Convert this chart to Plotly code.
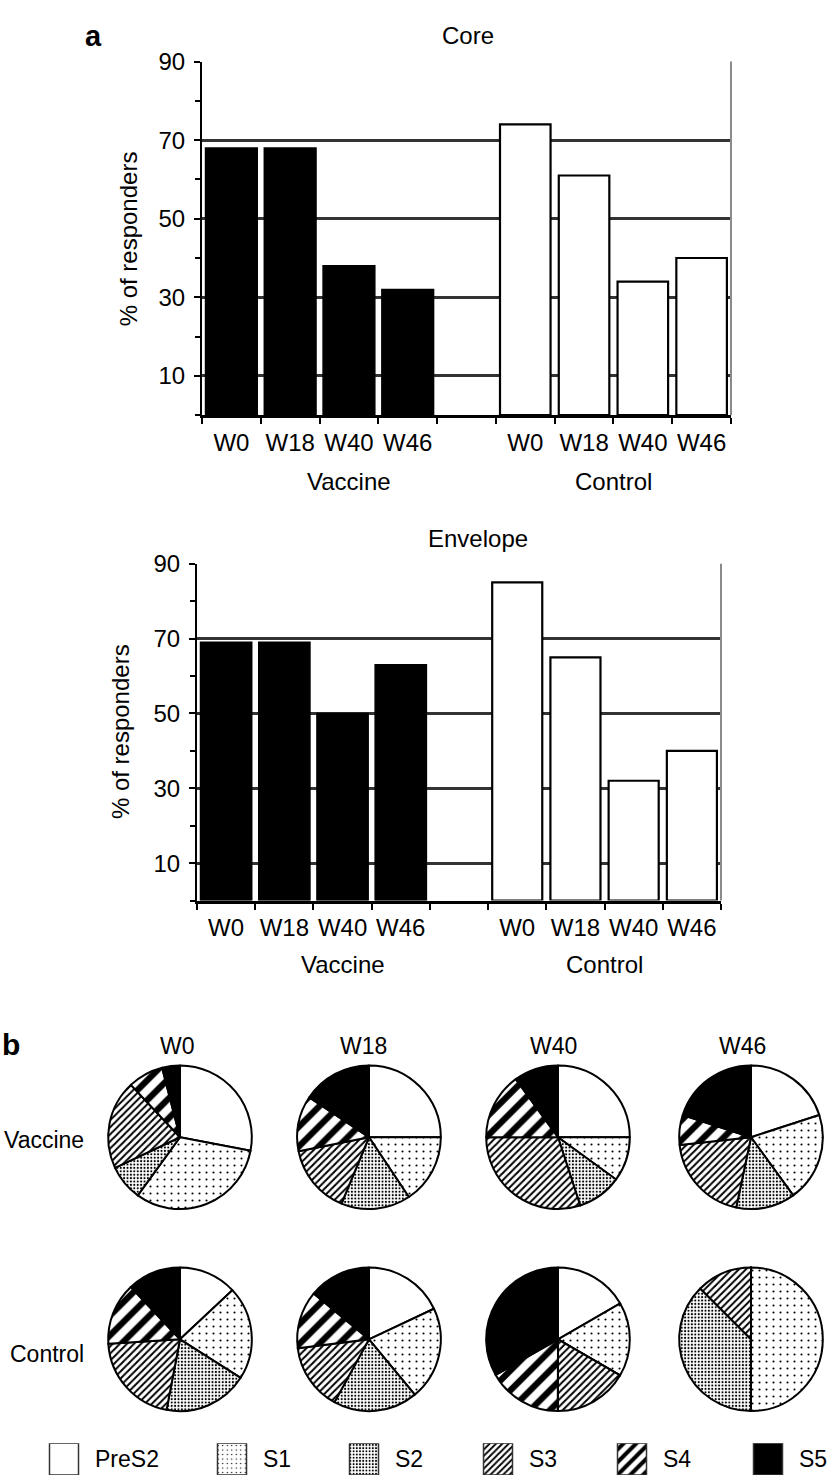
import plotly.graph_objects as go

# ---------------- data ----------------
timepoints = ["W0", "W18", "W40", "W46"]
groups = ["Vaccine", "Control"]

core_vaccine = [68, 68, 38, 32]
core_control = [74, 61, 34, 40]
env_vaccine = [69, 69, 50, 63]
env_control = [85, 65, 32, 40]

y_tick_values = [10, 30, 50, 70, 90]

fragments = ["PreS2", "S1", "S2", "S3", "S4", "S5"]
# % of responders per fragment (pie charts, clockwise from 12 o'clock)
pie_vaccine = [
    [28, 32, 8, 20, 8, 4],               # W0
    [25, 15.6, 15.6, 15.6, 12.5, 15.6],  # W18
    [25, 10, 10, 30, 15, 10],            # W40
    [20, 20, 13.3, 20, 6.7, 20],         # W46
]
pie_control = [
    [13, 21, 19, 21, 14, 12],            # W0
    [18, 21, 19, 15, 13, 14],            # W18
    [16.7, 16.7, 0, 16.7, 16.7, 33.3],   # W40
    [0, 50, 37.5, 12.5, 0, 0],           # W46
]

# ---------------- styling ----------------
W, H = 829, 1476
FONT = "Liberation Sans, Arial, Helvetica, sans-serif"
FS_BAR = 24
FS = 23

frag_color = ["white", "white", "white", "white", "white", "black"]
pat_shape = ["", ".", ".", "/", "/", ""]
pat_size = [8, 7, 3.4, 5.0, 14, 8]
pat_solid = [0.2, 0.07, 0.3, 0.4, 0.45, 0.2]
legend_pat_size = [8, 4.5, 3.2, 4.5, 9, 8]


def fx(p):
    return p / W


def fy(p):
    return 1 - p / H


def text(t, x, y, size=FS, xanchor="center", yanchor="middle", **kw):
    d = dict(text=t, x=x, y=y, xref=kw.pop("xref", "paper"),
             yref=kw.pop("yref", "paper"), showarrow=False,
             xanchor=xanchor, yanchor=yanchor,
             font=dict(family=FONT, size=size, color="black"))
    d.update(kw)
    return d


fig = go.Figure()

vac_pos = list(range(len(timepoints)))
ctl_pos = [len(timepoints) + 1 + i for i in range(len(timepoints))]
n_slots = len(timepoints) * 2 + 1

panels = [
    dict(title="Core", vac=core_vaccine, ctl=core_control,
         box=(202, 731, 48, 405), title_xy=(468, 22), ytitle_x=128,
         group_y=472),
    dict(title="Envelope", vac=env_vaccine, ctl=env_control,
         box=(197, 721, 555, 895), title_xy=(478, 530), ytitle_x=120,
         group_y=960),
]

annotations = []
shapes = []
for i, p in enumerate(panels):
    sfx = "" if i == 0 else str(i + 1)
    fig.add_trace(go.Bar(
        x=vac_pos, y=p["vac"], xaxis="x" + sfx, yaxis="y" + sfx, width=0.88,
        marker=dict(color="black", line=dict(color="black", width=1.5)),
        showlegend=False, name=groups[0]))
    fig.add_trace(go.Bar(
        x=ctl_pos, y=p["ctl"], xaxis="x" + sfx, yaxis="y" + sfx, width=0.86,
        marker=dict(color="white", line=dict(color="black", width=2.2)),
        showlegend=False, name=groups[1]))
    x0, x1, y0, y1 = p["box"]
    fig.layout["xaxis" + sfx] = dict(
        domain=[fx(x0), fx(x1)], range=[-0.5, n_slots - 0.5],
        anchor="y" + sfx, tickmode="array",
        tickvals=vac_pos + ctl_pos, ticktext=timepoints + timepoints,
        ticks="", ticklabelstandoff=4,
        tickfont=dict(family=FONT, size=FS_BAR, color="black"),
        showline=True, linecolor="black", linewidth=3,
        showgrid=False, zeroline=False, fixedrange=True,
        minor=dict(tickmode="array",
                   tickvals=[k - 0.5 for k in range(n_slots + 1)],
                   ticks="outside", ticklen=6, tickwidth=2,
                   tickcolor="black", showgrid=False),
    )
    fig.layout["yaxis" + sfx] = dict(
        domain=[fy(y1), fy(y0)], range=[0, 90], anchor="x" + sfx,
        tickmode="array", tickvals=y_tick_values,
        ticks="outside", ticklen=6, tickwidth=2, tickcolor="black",
        ticklabelstandoff=4,
        tickfont=dict(family=FONT, size=FS_BAR, color="black"),
        showgrid=True, gridcolor="#333333", gridwidth=2.8,
        showline=True, linecolor="black", linewidth=2,
        zeroline=False, fixedrange=True,
        minor=dict(dtick=10, tick0=0, ticks="outside", ticklen=5,
                   tickwidth=2, tickcolor="black", showgrid=False),
    )
    shapes.append(dict(type="line", xref="x" + sfx + " domain",
                       yref="y" + sfx + " domain", x0=1, x1=1, y0=0, y1=1,
                       line=dict(color="#8a8a8a", width=2)))
    annotations.append(text(p["title"], fx(p["title_xy"][0]),
                            fy(p["title_xy"][1]), size=FS_BAR))
    annotations.append(text("% of responders", fx(p["ytitle_x"]),
                            fy((y0 + y1) / 2), size=FS_BAR, textangle=-90))
    annotations.append(text(groups[0], vac_pos[2], fy(p["group_y"]),
                            size=FS_BAR, xref="x" + sfx))
    annotations.append(text(groups[1], (ctl_pos[0] + ctl_pos[-1]) / 2,
                            fy(p["group_y"]), size=FS_BAR, xref="x" + sfx))

# ---------------- pies ----------------
col_cx = [180, 369, 558, 751]
row_cy = [1134, 1338]
R = 72.5
header_x = [177, 363, 553, 742]

for r, rowdata in enumerate([pie_vaccine, pie_control]):
    for c, vals in enumerate(rowdata):
        cx, cy = col_cx[c], row_cy[r]
        fig.add_trace(go.Pie(
            values=vals, labels=fragments, sort=False, direction="clockwise",
            rotation=0, textinfo="none", showlegend=False,
            domain=dict(x=[fx(cx - R), fx(cx + R)],
                        y=[fy(cy + R), fy(cy - R)]),
            marker=dict(colors=frag_color,
                        line=dict(color="black", width=2),
                        pattern=dict(shape=pat_shape, size=pat_size,
                                     solidity=pat_solid, fgcolor="black",
                                     bgcolor=frag_color, fillmode="replace")),
        ))

for c, t in enumerate(timepoints):
    annotations.append(text(t, fx(header_x[c]), fy(1042)))
for r, g in enumerate(groups):
    annotations.append(text(g, fx(86), fy([1137, 1353][r]), xanchor="right"))

# panel letters
annotations.append(text("<b>a</b>", fx(93), fy(22), size=29))
annotations.append(text("<b>b</b>", fx(11), fy(1040), size=30))

# ---------------- legend (pattern swatches) ----------------
legend_x = [64, 232, 364, 498, 632, 768]
fig.layout["xaxis3"] = dict(domain=[0, 1], range=[0, W], anchor="y3",
                            visible=False, fixedrange=True)
fig.layout["yaxis3"] = dict(domain=[fy(1475), fy(1443)], range=[0, 1],
                            anchor="x3", visible=False, fixedrange=True)
for k, f in enumerate(fragments):
    fig.add_trace(go.Bar(
        x=[legend_x[k]], y=[1], xaxis="x3", yaxis="y3", width=29,
        marker=dict(color=frag_color[k],
                    line=dict(color="#333333", width=1.5),
                    pattern=dict(shape=pat_shape[k], size=legend_pat_size[k],
                                 solidity=pat_solid[k], fgcolor="black",
                                 bgcolor=frag_color[k], fillmode="replace")),
        showlegend=False, hoverinfo="skip", name=f))
    annotations.append(text(f, fx(legend_x[k] + 29), fy(1459),
                            xanchor="left"))

fig.update_layout(
    width=W, height=H, margin=dict(l=0, r=0, t=0, b=0),
    paper_bgcolor="white", plot_bgcolor="white",
    barmode="overlay", annotations=annotations, shapes=shapes,
    font=dict(family=FONT, color="black"),
)

fig.write_html(
    "out.html",
    config={"displayModeBar": False},
    post_script="document.body.style.margin='0px';"
                "document.body.style.overflow='hidden';",
)
